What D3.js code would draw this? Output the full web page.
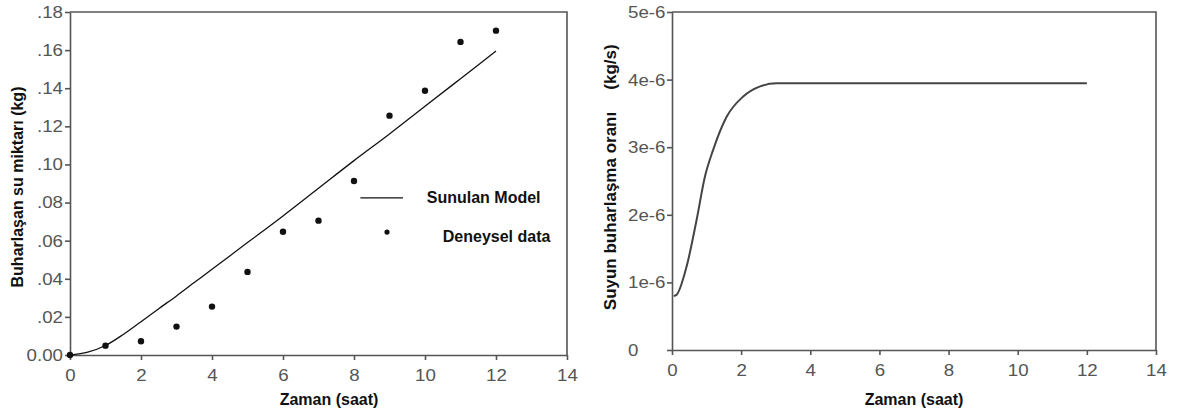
<!DOCTYPE html>
<html><head><meta charset="utf-8">
<script src="https://cdn.jsdelivr.net/npm/d3@7"></script>
<style>
body{margin:0;background:#fff;}
svg{display:block;font-family:"Liberation Sans",Arial,sans-serif;}
</style></head>
<body>
<svg id="c" width="1178" height="416"></svg>
<script>
// ---- Data ----
const xTicks = [0, 2, 4, 6, 8, 10, 12, 14];
const leftYTicks = [0, 0.02, 0.04, 0.06, 0.08, 0.10, 0.12, 0.14, 0.16, 0.18];
const rightYTicks = [0, 1e-6, 2e-6, 3e-6, 4e-6, 5e-6];
const rightYTickLabels = ["0", "1e-6", "2e-6", "3e-6", "4e-6", "5e-6"];

// Deneysel data (measured)
const expHours = [0, 1, 2, 3, 4, 5, 6, 7, 8, 9, 10, 11, 12];
const expKg = [0.000, 0.0049, 0.0072, 0.0149, 0.0254, 0.0436, 0.0647, 0.0705, 0.0913, 0.1256, 0.1387, 0.1643, 0.1702];

// Sunulan Model (cumulative evaporated water)
const modelHours = [0, 0.5, 1, 1.5, 2, 2.5, 3, 3.5, 4, 5, 6, 7, 8, 9, 10, 11, 12];
const modelKg = [0, 0.0015, 0.005, 0.0108, 0.0175, 0.0243, 0.031, 0.038, 0.045, 0.059, 0.073, 0.0875, 0.102, 0.116, 0.1305, 0.145, 0.1595];

// Evaporation rate (kg/s)
const rateHours = [0.05, 0.12, 0.42, 0.71, 0.95, 1.19, 1.58, 2.06, 2.55, 3.03, 3.5, 12];
const rateKgs = [0.80e-6, 0.81e-6, 1.23e-6, 1.92e-6, 2.56e-6, 2.96e-6, 3.45e-6, 3.75e-6, 3.90e-6, 3.945e-6, 3.945e-6, 3.945e-6];

// ---- Drawing ----
const svg = d3.select("#c");
const axisColor = "#555";
const tickColor = "#555";
const SX = 1.1; // horizontal stretch of tick label glyphs

function styleAxis(g) {
  g.selectAll("path.domain").attr("stroke", axisColor).attr("stroke-width", 1.6);
  g.selectAll(".tick line").attr("stroke", axisColor).attr("stroke-width", 1.6);
  g.selectAll(".tick text").attr("fill", tickColor).attr("font-size", 17);
}

function panel(opt) {
  const x = d3.scaleLinear().domain([0, 14]).range([opt.x0, opt.x1]);
  const y = d3.scaleLinear().domain(opt.yDomain).range([opt.y1, opt.y0]);

  svg.append("path")
    .attr("d", `M${opt.x0},${opt.y0}H${opt.x1}V${opt.y1}`)
    .attr("fill", "none").attr("stroke", axisColor).attr("stroke-width", 1.6);

  const gx = svg.append("g").attr("transform", `translate(0,${opt.y1})`)
    .call(d3.axisBottom(x).tickValues(xTicks).tickSize(5).tickSizeOuter(0));
  styleAxis(gx);
  gx.selectAll(".tick text").attr("y", 26).attr("dy", 0)
    .attr("transform", `scale(${SX},1)`).attr("x", 0);

  const gy = svg.append("g").attr("transform", `translate(${opt.x0},0)`)
    .call(d3.axisLeft(y).tickValues(opt.yTicks).tickSize(5).tickSizeOuter(0).tickFormat(opt.fmt));
  styleAxis(gy);
  gy.selectAll(".tick text")
    .attr("text-anchor", opt.yAnchor)
    .attr("x", opt.yLabelX / SX)
    .attr("transform", `scale(${SX},1)`);

  return {x, y};
}

// Left panel
const L = panel({
  x0: 70, x1: 567, y0: 12, y1: 355,
  yDomain: [0, 0.18], yTicks: leftYTicks,
  fmt: d => d === 0 ? "0.00" : d3.format(".2f")(d).replace(/^0/, ""),
  yAnchor: "end", yLabelX: -7
});

const modelLine = d3.line().x((d, i) => L.x(modelHours[i])).y(d => L.y(d)).curve(d3.curveMonotoneX);
svg.append("path").datum(modelKg).attr("d", modelLine)
  .attr("fill", "none").attr("stroke", "#111").attr("stroke-width", 1.3);

svg.append("g").selectAll("circle").data(expKg).join("circle")
  .attr("cx", (d, i) => L.x(expHours[i])).attr("cy", d => L.y(d)).attr("r", 3.2).attr("fill", "#111");

// legend
svg.append("line").attr("x1", L.x(8.18)).attr("x2", L.x(9.38)).attr("y1", L.y(0.0825)).attr("y2", L.y(0.0825))
  .attr("stroke", "#111").attr("stroke-width", 1.3);
svg.append("text").attr("x", L.x(10.05)).attr("y", L.y(0.0825)).attr("dy", "0.35em")
  .attr("font-size", 16).attr("font-weight", "bold").attr("fill", "#111").text("Sunulan Model");
svg.append("circle").attr("cx", L.x(8.93)).attr("cy", L.y(0.0645)).attr("r", 2.6).attr("fill", "#111");
svg.append("text").attr("x", L.x(10.5)).attr("y", L.y(0.062)).attr("dy", "0.35em")
  .attr("font-size", 16).attr("font-weight", "bold").attr("fill", "#111").text("Deneysel data");

// axis titles left
svg.append("text").attr("x", 329).attr("y", 405).attr("text-anchor", "middle")
  .attr("font-size", 16).attr("font-weight", "bold").attr("fill", "#111").text("Zaman (saat)");
svg.append("text").attr("transform", "translate(23,187) rotate(-90)").attr("text-anchor", "middle")
  .attr("font-size", 16).attr("font-weight", "bold").attr("fill", "#111").text("Buharlaşan su miktarı (kg)");

// Right panel
const R = panel({
  x0: 672, x1: 1156, y0: 12, y1: 350,
  yDomain: [0, 5e-6], yTicks: rightYTicks,
  fmt: (d, i) => rightYTickLabels[i],
  yAnchor: "start", yLabelX: -44
});

const rateLine = d3.line().x((d, i) => R.x(rateHours[i])).y(d => R.y(d)).curve(d3.curveMonotoneX);
svg.append("path").datum(rateKgs).attr("d", rateLine)
  .attr("fill", "none").attr("stroke", "#444").attr("stroke-width", 2);

svg.append("text").attr("x", 914).attr("y", 405).attr("text-anchor", "middle")
  .attr("font-size", 16).attr("font-weight", "bold").attr("fill", "#111").text("Zaman (saat)");
svg.append("text").attr("transform", "translate(616,211) rotate(-90)").attr("text-anchor", "middle")
  .attr("font-size", 17).attr("font-weight", "bold").attr("fill", "#111").text("Suyun buharlaşma oranı");
svg.append("text").attr("transform", "translate(616,67) rotate(-90)").attr("text-anchor", "middle")
  .attr("font-size", 17).attr("font-weight", "bold").attr("fill", "#111").text("(kg/s)");
</script>
</body></html>
